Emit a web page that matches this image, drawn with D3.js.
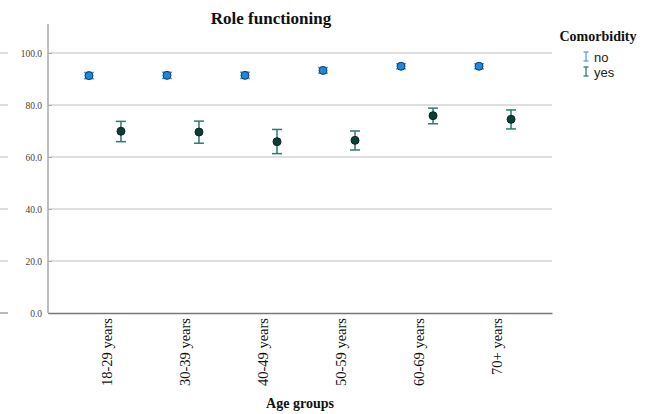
<!DOCTYPE html>
<html><head><meta charset="utf-8">
<script src="https://cdn.jsdelivr.net/npm/d3@7"></script>
<style>body{margin:0;background:#fff}svg{display:block}</style>
</head><body>
<svg id="c" width="658" height="414"></svg>
<script>
const categories = ["18-29 years","30-39 years","40-49 years","50-59 years","60-69 years","70+ years"];
const seriesNames = ["no","yes"];
const noMean = [91.3, 91.4, 91.4, 93.3, 94.9, 94.9];
const noLow  = [90.1, 90.2, 90.2, 92.2, 93.9, 93.9];
const noHigh = [92.5, 92.6, 92.6, 94.4, 95.9, 95.9];
const yesMean = [69.9, 69.6, 65.9, 66.4, 75.9, 74.5];
const yesLow  = [65.9, 65.3, 61.3, 62.7, 72.8, 70.8];
const yesHigh = [73.7, 73.8, 70.6, 70.0, 78.8, 78.1];
const yTicks = [0, 20, 40, 60, 80, 100];

const svg = d3.select("#c");
const serif = "'Liberation Serif','Times New Roman',serif";
const sans = "'Liberation Sans',Arial,sans-serif";

const x = d3.scalePoint().domain(categories).range([48, 552]).padding(0.73);
const y = d3.scaleLinear().domain([0, 100]).range([313, 53]);
const off = d3.scaleOrdinal().domain(seriesNames).range([-16, 16]);

// gridlines
svg.append("g").selectAll("line").data(yTicks.filter(d => d > 0)).join("line")
  .attr("x1", 48).attr("x2", 552).attr("y1", d => y(d)).attr("y2", d => y(d))
  .attr("stroke", "#d4d4d4").attr("stroke-width", 1.5);

// stray left dashes
svg.append("g").selectAll("line").data(yTicks).join("line")
  .attr("x1", 0).attr("x2", 8).attr("y1", d => y(d)).attr("y2", d => y(d))
  .attr("stroke", d => d === 0 ? "#777" : "#bbb").attr("stroke-width", 1);

// y axis
const yAxis = svg.append("g").attr("transform", "translate(48,0)")
  .call(d3.axisLeft(y).tickValues(yTicks).tickFormat(d3.format(".1f")).tickSize(-4).tickPadding(6));
yAxis.select(".domain").remove();
yAxis.selectAll(".tick line").attr("stroke", "#aaa");
yAxis.selectAll("text").attr("font-family", serif).attr("font-size", 9.5).attr("fill", "#444");
svg.append("line").attr("x1", 48).attr("x2", 48).attr("y1", 24).attr("y2", 313)
  .attr("stroke", "#aaa").attr("stroke-width", 1.5);

// x axis
const xAxis = svg.append("g").attr("transform", "translate(0,313)")
  .call(d3.axisBottom(x).tickSize(0).tickPadding(0));
xAxis.select(".domain").attr("stroke", "#777").attr("stroke-width", 1.5);
xAxis.selectAll("text")
  .attr("font-family", serif).attr("font-size", 14.5).attr("fill", "#111")
  .attr("transform", "rotate(-90)").attr("text-anchor", "end")
  .attr("x", -5).attr("y", 1).attr("dy", "0.35em");

// data
const series = [
  {name: "no", mean: noMean, low: noLow, high: noHigh, fill: "#1f86d8", stroke: "#0a3d6e", bar: "#4aa8e6"},
  {name: "yes", mean: yesMean, low: yesLow, high: yesHigh, fill: "#0e3d38", stroke: "#082824", bar: "#2c7a70"}
];
series.forEach(s => {
  const g = svg.append("g");
  const data = categories.map((c, i) => ({c, m: s.mean[i], lo: s.low[i], hi: s.high[i]}));
  const cx = d => x(d.c) + off(s.name);
  g.selectAll(".v").data(data).join("line")
    .attr("x1", cx).attr("x2", cx).attr("y1", d => y(d.lo)).attr("y2", d => y(d.hi))
    .attr("stroke", s.bar).attr("stroke-width", 1.5);
  ["lo","hi"].forEach(k => {
    g.selectAll(".c" + k).data(data).join("line")
      .attr("x1", d => cx(d) - 5).attr("x2", d => cx(d) + 5)
      .attr("y1", d => y(d[k])).attr("y2", d => y(d[k]))
      .attr("stroke", s.bar).attr("stroke-width", 1.5);
  });
  g.selectAll("circle").data(data).join("circle")
    .attr("cx", cx).attr("cy", d => y(d.m)).attr("r", 4)
    .attr("fill", s.fill).attr("stroke", s.stroke).attr("stroke-width", 1);
});

// title
svg.append("text").attr("x", 271).attr("y", 24).attr("text-anchor", "middle")
  .attr("font-family", serif).attr("font-weight", "bold").attr("font-size", 17)
  .attr("fill", "#111").text("Role functioning");

// x title
svg.append("text").attr("x", 300).attr("y", 408).attr("text-anchor", "middle")
  .attr("font-family", serif).attr("font-weight", "bold").attr("font-size", 14)
  .attr("fill", "#111").text("Age groups");

// legend
svg.append("text").attr("x", 598).attr("y", 41).attr("text-anchor", "middle")
  .attr("font-family", serif).attr("font-weight", "bold").attr("font-size", 14)
  .attr("fill", "#111").text("Comorbidity");
const lg = svg.append("g").selectAll("g").data(series).join("g")
  .attr("transform", (d, i) => `translate(586,${57 + i * 15})`);
lg.append("line").attr("x1", 0).attr("x2", 0).attr("y1", -5).attr("y2", 4)
  .attr("stroke", d => d.bar).attr("stroke-width", 1.3);
lg.append("line").attr("x1", -2.5).attr("x2", 2.5).attr("y1", -5).attr("y2", -5)
  .attr("stroke", d => d.bar).attr("stroke-width", 1.3);
lg.append("line").attr("x1", -2.5).attr("x2", 2.5).attr("y1", 4).attr("y2", 4)
  .attr("stroke", d => d.bar).attr("stroke-width", 1.3);
lg.append("text").attr("x", 8).attr("y", 4.5)
  .attr("font-family", sans).attr("font-size", 13).attr("fill", "#222")
  .text(d => d.name);
</script>
</body></html>
